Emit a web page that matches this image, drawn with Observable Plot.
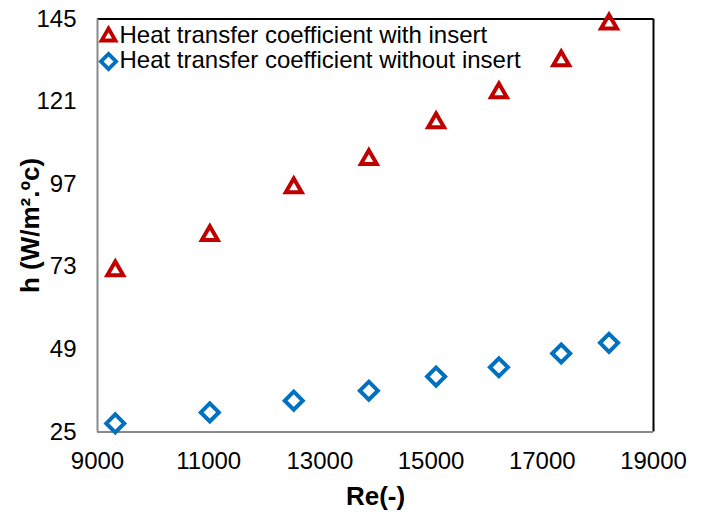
<!DOCTYPE html>
<html>
<head>
<meta charset="utf-8">
<script src="https://cdn.jsdelivr.net/npm/d3@7"></script>
<script src="https://cdn.jsdelivr.net/npm/@observablehq/plot@0.6"></script>
<style>
  html, body { margin: 0; padding: 0; background: white; }
</style>
</head>
<body>
<div id="chart"></div>
<script>
const re = [9320, 11020, 12530, 13880, 15090, 16220, 17340, 18200];
const hWithInsert = [71.9, 82.1, 96.0, 104.2, 114.9, 123.6, 132.9, 143.6];
const hWithoutInsert = [27.5, 30.7, 34.1, 37.0, 41.1, 43.8, 47.8, 50.9];
const seriesNames = ["Heat transfer coefficient with insert", "Heat transfer coefficient without insert"];
const xTicks = [9000, 11000, 13000, 15000, 17000, 19000];
const yTicks = [25, 49, 73, 97, 121, 145];
const xLabel = "Re(-)";
const yLabel = "h (W/m².ºc)";

const red = "#C00000";
const blue = "#0070C0";

const withData = re.map((r, i) => ({re: r, h: hWithInsert[i]}));
const withoutData = re.map((r, i) => ({re: r, h: hWithoutInsert[i]}));
const xDom = [xTicks[0], xTicks[xTicks.length - 1]];
const yDom = [yTicks[0], yTicks[yTicks.length - 1]];

const chart = Plot.plot({
  width: 704,
  height: 512,
  marginLeft: 97,
  marginRight: 51,
  marginTop: 18.5,
  marginBottom: 80.5,
  style: {fontFamily: "'Liberation Sans', Arial, sans-serif", fontSize: "24px", color: "#000", background: "white"},
  x: {domain: xDom},
  y: {domain: yDom},
  marks: [
    Plot.axisX({ticks: xTicks, tickSize: 0, tickPadding: 20, tickFormat: "d", label: null, fontSize: 24, fill: "#000"}),
    Plot.axisY({ticks: yTicks, tickSize: 0, tickPadding: 21, tickFormat: "d", label: null, fontSize: 24, fill: "#000"}),
    Plot.ruleY([yDom[1]], {stroke: "#000", strokeWidth: 2}),
    Plot.ruleX([xDom[1]], {stroke: "#000", strokeWidth: 2}),
    Plot.ruleY([yDom[0]], {stroke: "#898989", strokeWidth: 2}),
    Plot.ruleX([xDom[0]], {stroke: "#898989", strokeWidth: 2}),
    Plot.dot(withData, {x: "re", y: "h", symbol: "triangle2", r: 7.6, stroke: red, strokeWidth: 4, fill: "none"}),
    Plot.dot(withoutData, {x: "re", y: "h", symbol: "diamond2", r: 8.1, stroke: blue, strokeWidth: 4, fill: "none"}),
    // legend
    Plot.dot([seriesNames[0]], {frameAnchor: "top-left", dx: 11, dy: 17.5, symbol: "triangle2", r: 6.6, stroke: red, strokeWidth: 3.8, fill: "none"}),
    Plot.dot([seriesNames[1]], {frameAnchor: "top-left", dx: 11, dy: 42.5, symbol: "diamond2", r: 6.8, stroke: blue, strokeWidth: 3.8, fill: "none"}),
    Plot.text([seriesNames[0]], {frameAnchor: "top-left", dx: 22, dy: 16.5, text: d => d, textAnchor: "start", lineAnchor: "middle", fontSize: 24, fill: "#000"}),
    Plot.text([seriesNames[1]], {frameAnchor: "top-left", dx: 22, dy: 41.5, text: d => d, textAnchor: "start", lineAnchor: "middle", fontSize: 24, fill: "#000"}),
    // axis titles
    Plot.text([xLabel], {frameAnchor: "bottom", dy: 65, text: d => d, textAnchor: "middle", lineAnchor: "middle", fontWeight: "bold", fontSize: 26, fill: "#000"}),
    Plot.text([yLabel], {frameAnchor: "left", dx: -67, rotate: -90, text: d => d, textAnchor: "middle", lineAnchor: "middle", fontWeight: "bold", fontSize: 26, fill: "#000"})
  ]
});
document.getElementById("chart").appendChild(chart);
</script>
</body>
</html>
